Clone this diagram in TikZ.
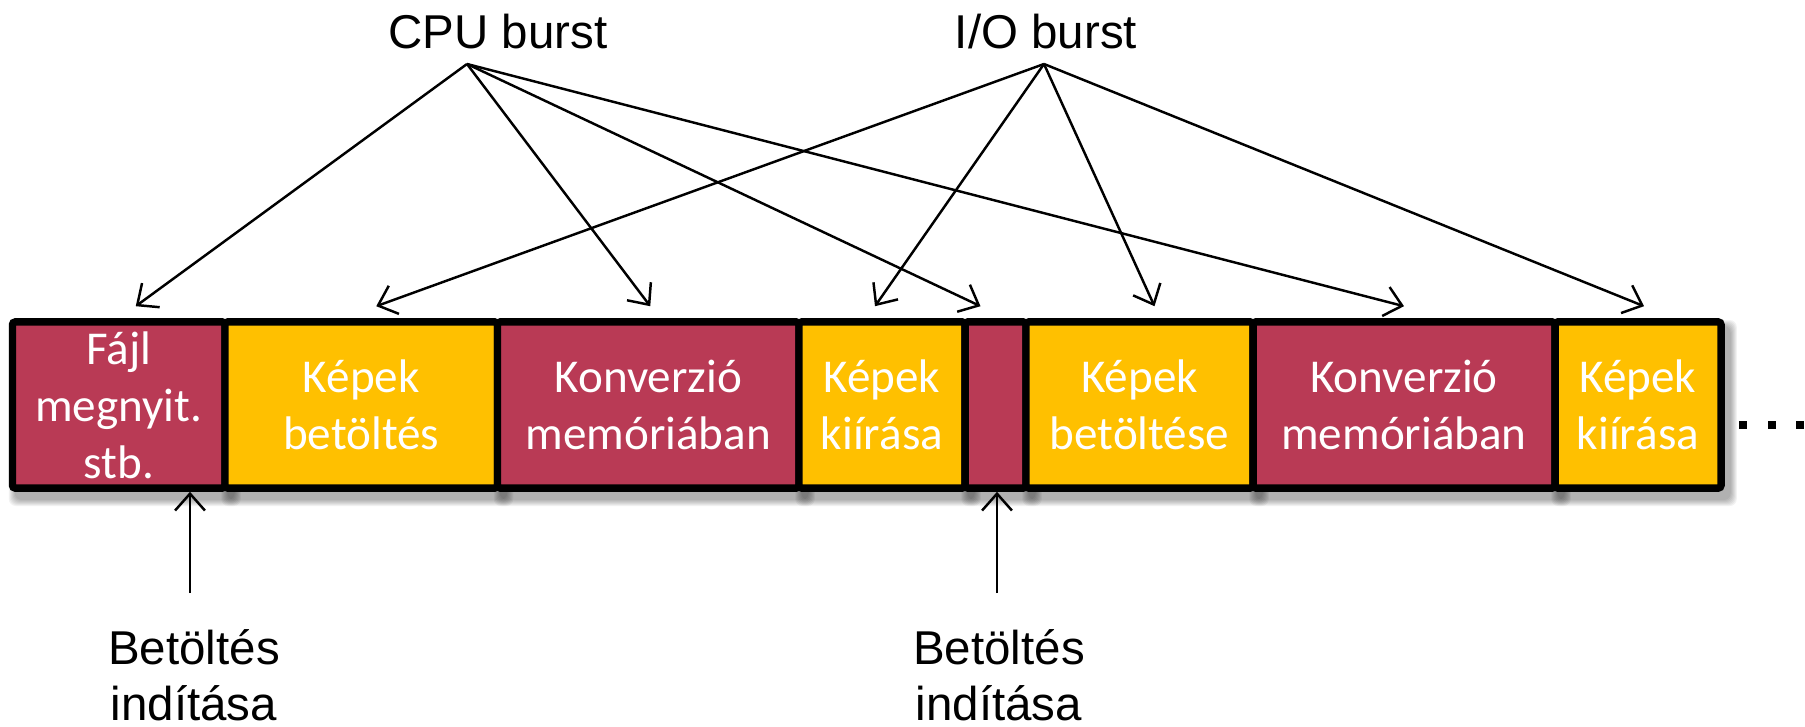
\documentclass[tikz,border=0pt]{standalone}
\usepackage{fontspec}
\setmainfont{Liberation Sans}
\newfontfamily\boxfont{Carlito}
\usetikzlibrary{arrows.meta,calc}

\definecolor{cpured}{RGB}{185,58,85}
\definecolor{ioyellow}{RGB}{255,192,0}

\tikzset{
  burst/.style={draw=black,line width=2.13pt,rounded corners=0.8pt,text=white,
    font=\boxfont\fontsize{13.4}{16.2}\selectfont,align=center,inner sep=0pt},
  lbl/.style={font=\fontsize{13.5}{16}\selectfont,align=center,inner sep=0pt},
  arr/.style={-{Straight Barb[length=4.8pt,width=8.5pt]},line width=0.7pt}
}

% left edge / right edge / colour / name / text
\def\boxlist{12.5/225/cpured/f1/{Fájl\\megnyit.\\stb.},
  225/497.5/ioyellow/f2/{Képek\\betöltés},
  497.5/799/cpured/f3/{Konverzió\\memóriában},
  799/965/ioyellow/f4/{Képek\\kiírása},
  965/1026/cpured/f5/{},
  1026/1253/ioyellow/f6/{Képek\\betöltése},
  1253/1555/cpured/f7/{Konverzió\\memóriában},
  1555/1721/ioyellow/f8/{Képek\\kiírása}}

\begin{document}
\begin{tikzpicture}[x=0.01cm,y=-0.01cm]
  \useasboundingbox (0,0) rectangle (1805,727);

  % soft shadows under the boxes
  \foreach \l/\r/\c/\n/\t in \boxlist {
    \foreach \e in {0,...,6}
      \fill[black,opacity=0.05,rounded corners=2pt]
        (\l+2.25-\e,326-\e) rectangle (\r+9.75+\e,500+\e);
  }

  % the bursts in a row
  \foreach \l/\r/\c/\n/\t in \boxlist {
    \pgfmathsetmacro{\w}{(\r-\l)*0.01}
    \node[burst,fill=\c,minimum width=\w cm,minimum height=1.66cm]
      (\n) at ({(\l+\r)/2},405) {\t};
  }

  % more to come
  \foreach \x in {1743,1772,1800}
    \fill (\x-4,421) rectangle (\x+4,429);

  % labels on top
  \node[lbl,anchor=base] (cpu) at (498,48) {CPU burst};
  \node[lbl,anchor=base] (io) at (1046,48) {I/O burst};
  \coordinate (cpuo) at (467,64);
  \coordinate (ioo) at (1044,64);

  \foreach \b/\dx in {f1/17,f3/2,f5/-15,f7/0}
    \draw[arr] (cpuo) -- ($(\b.north)+(\dx,-12)$);
  \foreach \b/\dx in {f2/15,f4/-7,f6/15,f8/6}
    \draw[arr] (ioo) -- ($(\b.north)+(\dx,-12)$);

  % loading starts
  \node[lbl,anchor=north] (st1) at (194,629) {Betöltés\\indítása};
  \node[lbl,anchor=north] (st2) at (999,629) {Betöltés\\indítása};
  \coordinate (s1) at ($(st1.north)+(-4,-36)$);
  \coordinate (s2) at ($(st2.north)+(-2,-36)$);
  \draw[arr] (s1) -- (s1 |- f1.south);
  \draw[arr] (s2) -- (s2 |- f5.south);
\end{tikzpicture}
\end{document}
